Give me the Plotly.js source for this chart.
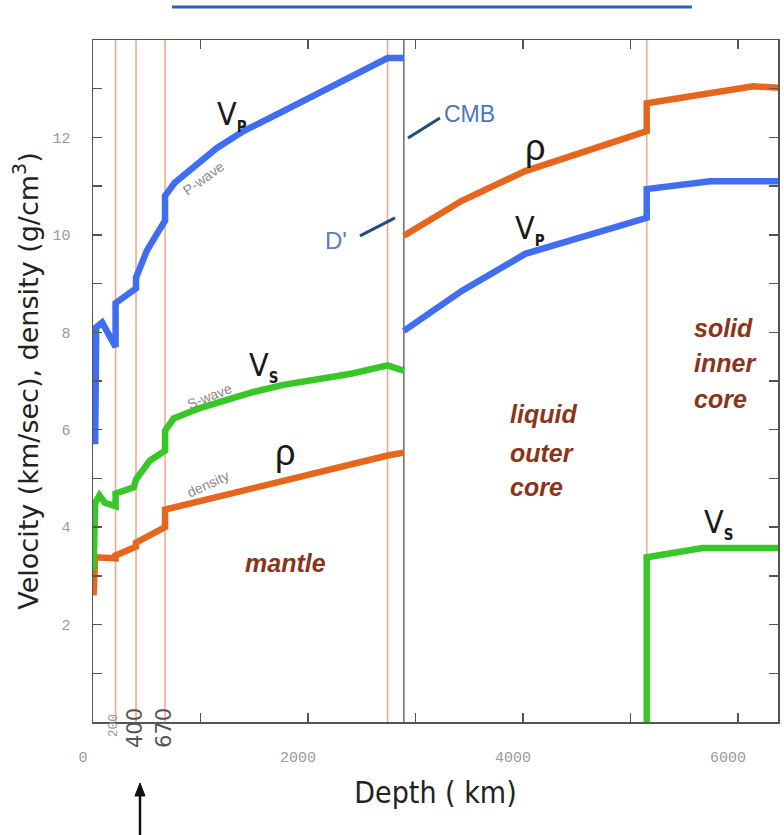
<!DOCTYPE html>
<html>
<head>
<meta charset="utf-8">
<script src="https://cdn.plot.ly/plotly-3.0.1.min.js"></script>
<style>html,body{margin:0;padding:0;background:#fff;}#chart{width:784px;height:835px;}</style>
</head>
<body>
<div id="chart"></div>
<script>
// ---- data (depth in km, values in km/s or g/cm3) ----
var vpMantleDepth = [20, 30, 85, 210, 210, 400, 400, 500, 600, 650, 670, 670, 760, 1150, 1400, 1770, 2200, 2740, 2891];
var vpMantle      = [5.7, 8.1, 8.2, 7.7, 8.6, 8.9, 9.12, 9.67, 10.04, 10.23, 10.29, 10.8, 11.07, 11.78, 12.13, 12.54, 13.01, 13.63, 13.63];
var vpCoreDepth   = [2891, 3430, 4020, 5150, 5150, 5740, 6371];
var vpCore        = [8.03, 8.85, 9.61, 10.35, 10.94, 11.1, 11.1];

var vsMantleDepth = [5, 20, 60, 110, 210, 210, 380, 400, 530, 670, 670, 750, 1000, 1500, 1770, 2400, 2740, 2891];
var vsMantle      = [3.11, 4.5, 4.65, 4.5, 4.43, 4.69, 4.82, 4.98, 5.37, 5.57, 5.98, 6.23, 6.45, 6.78, 6.92, 7.15, 7.32, 7.21];
var vsInnerDepth  = [5150, 5150, 5670, 6371];
var vsInner       = [0, 3.38, 3.57, 3.57];

var rhoMantleDepth = [5, 20, 210, 210, 400, 400, 670, 670, 2740, 2891];
var rhoMantle      = [2.6, 3.38, 3.36, 3.42, 3.6, 3.68, 4.0, 4.36, 5.47, 5.53];
var rhoCoreDepth   = [2891, 3430, 4020, 5150, 5150, 5740, 6140, 6371];
var rhoCore        = [9.98, 10.7, 11.31, 12.13, 12.7, 12.91, 13.05, 13.02];

var discontinuities = [210, 400, 670, 2740, 5150];
var cmbDepth = 2891;

var xTickVals = [0, 2000, 4000, 6000];
var xMinorVals = [1000, 3000, 5000];
var yTickVals = [2, 4, 6, 8, 10, 12];
var yMinorVals = [1, 3, 5, 7, 9, 11, 13];
var specialDepthLabels = ['200', '400', '670'];
var specialDepthPos = [186, 391, 660];

// ---- styles ----
var BLUE = '#3f6ff0', GREEN = '#35c826', ORANGE = '#e5661c';
var LW = 6.5;
var NARROW = 'Liberation Sans Narrow, Arial Narrow, DejaVu Sans Condensed, sans-serif';
var BROWN = '#8a3418';

function tr(x, y, c) {
  return {x: x, y: y, type: 'scatter', mode: 'lines', line: {color: c, width: LW}, hoverinfo: 'skip', showlegend: false};
}
var data = [
  tr(rhoMantleDepth, rhoMantle, ORANGE),
  tr(rhoCoreDepth, rhoCore, ORANGE),
  tr(vsMantleDepth, vsMantle, GREEN),
  tr(vsInnerDepth, vsInner, GREEN),
  tr(vpMantleDepth, vpMantle, BLUE),
  tr(vpCoreDepth, vpCore, BLUE)
];

var shapes = discontinuities.map(function (d) {
  return {type: 'line', xref: 'x', yref: 'paper', x0: d, x1: d, y0: 0, y1: 1, layer: 'below',
          line: {color: '#f0a588', width: 1.5}};
});
shapes.push({type: 'line', xref: 'x', yref: 'paper', x0: cmbDepth, x1: cmbDepth, y0: 0, y1: 1, layer: 'below',
             line: {color: '#6a6a6a', width: 1.5}});
// decorative title underline
shapes.push({type: 'line', xref: 'paper', yref: 'paper', x0: 0.1153, x1: 0.8745, y0: 1.0484, y1: 1.0484,
             line: {color: '#2a64b0', width: 3}});
// pointers to CMB and D''
shapes.push({type: 'line', xref: 'x', yref: 'y', x0: 2930, y0: 11.99, x1: 3227, y1: 12.4, line: {color: '#1f4e79', width: 3}});
shapes.push({type: 'line', xref: 'x', yref: 'y', x0: 2483, y0: 9.98, x1: 2809, y1: 10.35, line: {color: '#1f4e79', width: 3}});
// arrow pointing up at the 400 km label
shapes.push({type: 'line', xref: 'paper', yref: 'paper', x0: 0.0686, x1: 0.0686, y0: -0.1657, y1: -0.105,
             line: {color: '#111', width: 2.5}});
shapes.push({type: 'path', xref: 'paper', yref: 'paper',
             path: 'M 0.0613 -0.1085 L 0.0686 -0.0894 L 0.0759 -0.1085 Z',
             fillcolor: '#111', line: {color: '#111', width: 1}});

function ann(x, y, text, font, extra) {
  var a = {x: x, y: y, xref: 'x', yref: 'y', text: text, showarrow: false, font: font};
  for (var k in extra) a[k] = extra[k];
  return a;
}
var bigFont = {family: NARROW, size: 32, color: '#1a1a1a'};
var smallGray = {family: 'Liberation Sans, Arial, sans-serif', size: 14, color: '#8a8a8a'};
var regionFont = {family: 'Liberation Sans, Arial, sans-serif', size: 25, color: BROWN, weight: 'bold', style: 'italic'};
var sub = function (s) { return '<sub><span style="font-size:15px"><b>' + s + '</b></span></sub>'; };

var annotations = [
  ann(1293, 12.46, 'V' + sub('P'), bigFont),
  ann(1032, 11.17, 'P-wave', smallGray, {textangle: -36}),
  ann(1590, 7.3, 'V' + sub('S'), bigFont),
  ann(1088, 6.7, 'S-wave', smallGray, {textangle: -22}),
  ann(1786, 5.53, '\u03c1', {family: 'Liberation Sans, Arial, sans-serif', size: 36, color: '#1a1a1a'}),
  ann(1070, 4.88, 'density', smallGray, {textangle: -25}),
  ann(1786, 3.26, 'mantle', regionFont),
  ann(3860, 6.33, 'liquid', regionFont, {xanchor: 'left'}),
  ann(3860, 5.53, 'outer', regionFont, {xanchor: 'left'}),
  ann(3860, 4.82, 'core', regionFont, {xanchor: 'left'}),
  ann(5571, 8.09, 'solid', regionFont, {xanchor: 'left'}),
  ann(5571, 7.36, 'inner', regionFont, {xanchor: 'left'}),
  ann(5571, 6.64, 'core', regionFont, {xanchor: 'left'}),
  ann(4111, 11.8, '\u03c1', {family: 'Liberation Sans, Arial, sans-serif', size: 36, color: '#1a1a1a'}),
  ann(4064, 10.1, 'V' + sub('P'), bigFont),
  ann(5813, 4.08, 'V' + sub('S'), bigFont),
  ann(3246, 12.48, 'CMB', {family: 'Liberation Sans, Arial, sans-serif', size: 23, color: '#4a78b5'}, {xanchor: 'left'}),
  ann(2260, 9.88, "D'", {family: 'Liberation Sans, Arial, sans-serif', size: 24, color: '#5a7fb8'})
];
// special depth labels below the axis
var specialFonts = [
  {family: 'Liberation Mono, monospace', size: 13, color: '#999'},
  {family: 'DejaVu Sans, sans-serif', size: 21, color: '#555'},
  {family: 'DejaVu Sans, sans-serif', size: 21, color: '#555'}
];
var specialY = [-0.026, -0.041, -0.041];
for (var i = 0; i < specialDepthLabels.length; i++) {
  annotations.push({x: specialDepthPos[i], y: specialY[i], xref: 'x', yref: 'paper', text: specialDepthLabels[i],
                    textangle: -90, showarrow: false, font: specialFonts[i]});
}

var tickFont = {family: 'Liberation Mono, Courier New, monospace', size: 15, color: '#9a9a9a'};
var axisCommon = {
  showline: true, linecolor: '#555', linewidth: 1.5, mirror: 'ticks',
  ticks: 'inside', ticklen: 9, tickwidth: 1.5, tickcolor: '#555',
  showgrid: false, zeroline: false, tickfont: tickFont, tickmode: 'array'
};

var layout = {
  width: 784, height: 835,
  margin: {l: 93, r: 6, t: 40, b: 113},
  paper_bgcolor: '#fff', plot_bgcolor: '#fff',
  showlegend: false,
  xaxis: Object.assign({}, axisCommon, {
    range: [0, 6371], tickvals: xTickVals, ticktext: xTickVals.map(String),
    ticklabelstandoff: 20, ticklabelshift: -10,
    minor: {tickmode: 'array', tickvals: xMinorVals, ticks: 'inside', ticklen: 9, tickwidth: 1.5, tickcolor: '#555'},
    title: {text: 'Depth ( km)', font: {family: NARROW, size: 30, color: '#222'}, standoff: 16}
  }),
  yaxis: Object.assign({}, axisCommon, {
    range: [0, 14], tickvals: yTickVals, ticktext: yTickVals.map(String),
    ticklabelstandoff: 18,
    minor: {tickmode: 'array', tickvals: yMinorVals, ticks: 'inside', ticklen: 9, tickwidth: 1.5, tickcolor: '#555'},
    title: {text: 'Velocity (km/sec), density (g/cm<sup>3</sup>)\u00a0\u00a0\u00a0\u00a0\u00a0',
            font: {family: 'DejaVu Sans, sans-serif', size: 27, color: '#222'}, standoff: 6}
  }),
  shapes: shapes,
  annotations: annotations
};

Plotly.newPlot('chart', data, layout, {displayModeBar: false, staticPlot: true});
</script>
</body>
</html>
